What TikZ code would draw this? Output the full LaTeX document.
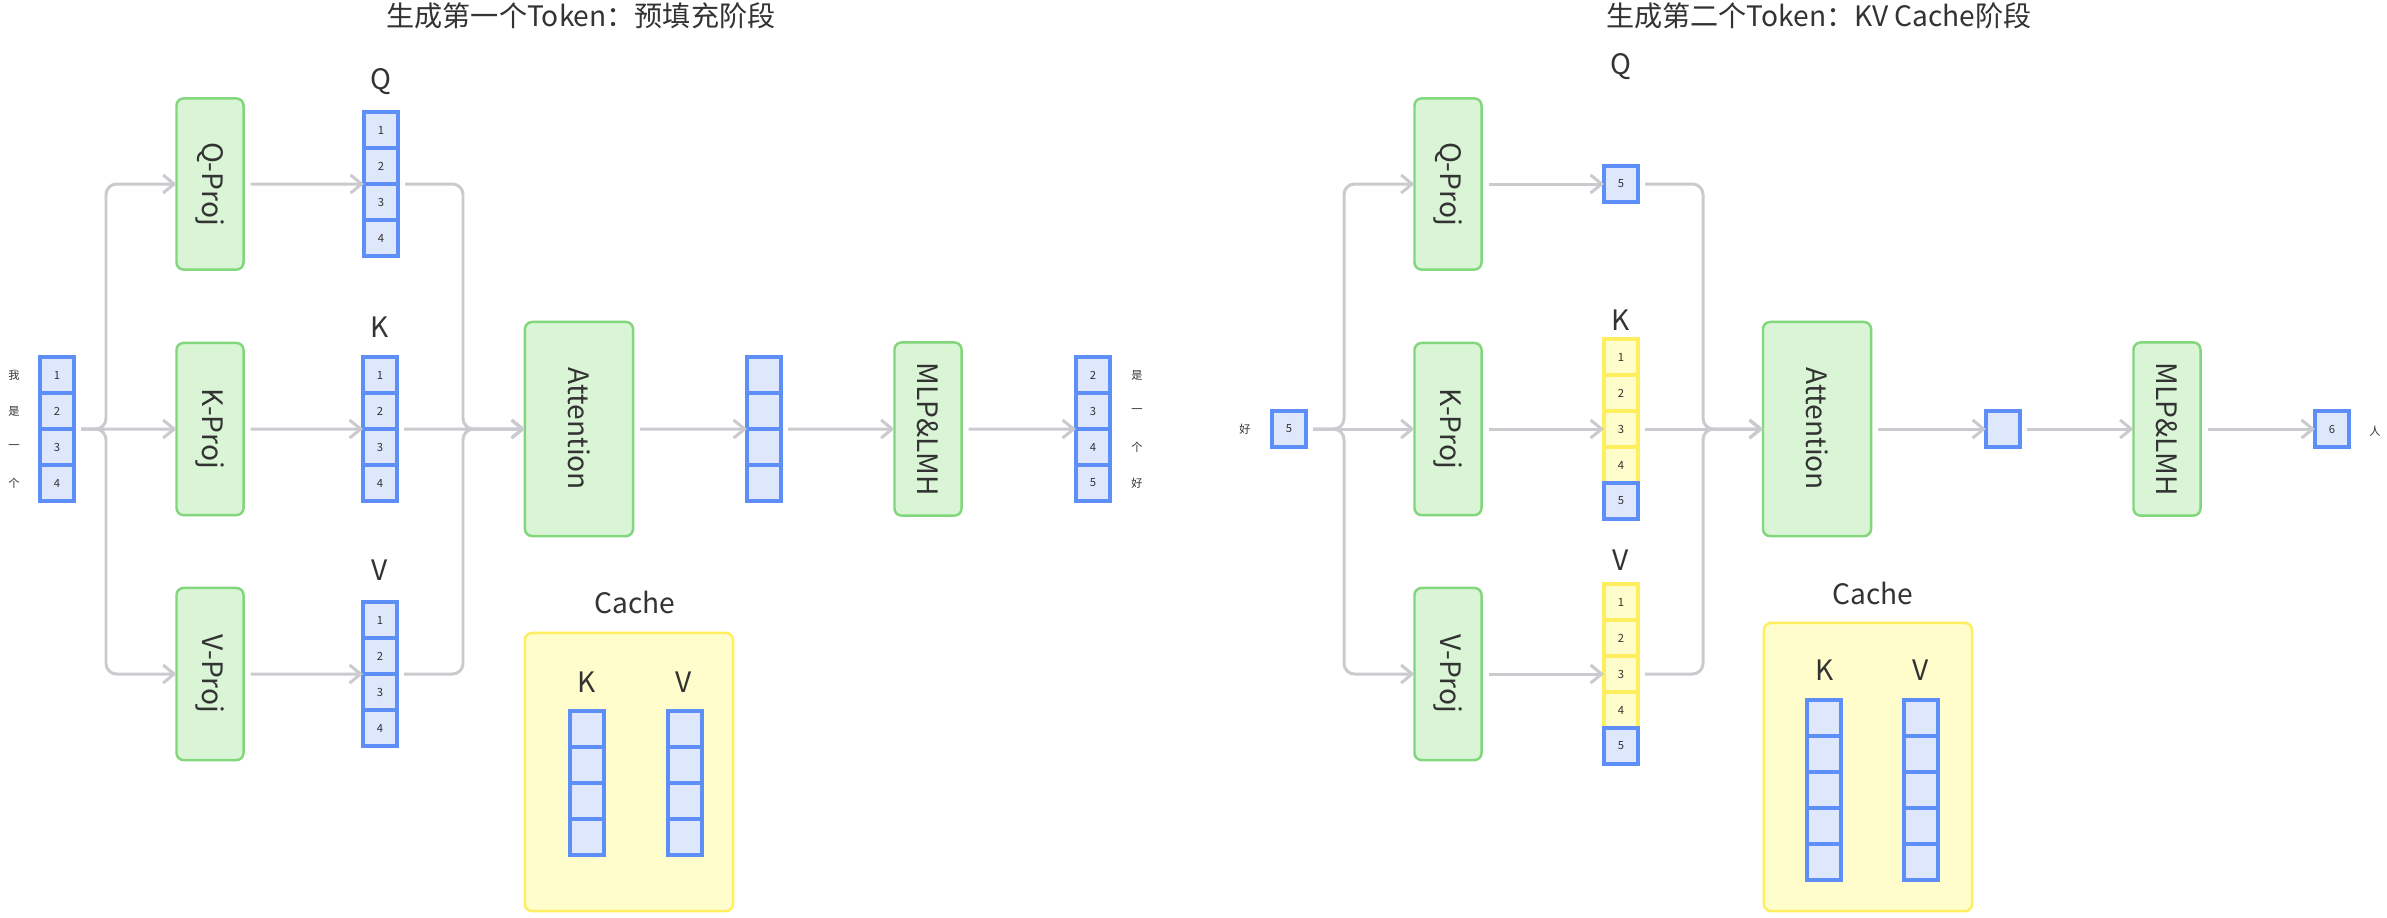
\documentclass[tikz,border=0pt]{standalone}
\usepackage{fontspec}
\setmainfont{Noto Sans CJK SC}
\usepackage{graphicx}
\usetikzlibrary{arrows.meta,positioning}
\definecolor{grnfill}{HTML}{D9F5D6}
\definecolor{grnline}{HTML}{82D67B}
\definecolor{bluefill}{HTML}{DFE7FC}
\definecolor{blueline}{HTML}{5E8EF7}
\definecolor{yelfill}{HTML}{FFFDCB}
\definecolor{yelline}{HTML}{FFEE5E}
\definecolor{flowc}{HTML}{C9CBCF}
\definecolor{ink}{HTML}{333333}
\tikzset{
  blk/.style={rectangle, rounded corners=2pt, draw=grnline, fill=grnfill, line width=0.7pt,
              minimum width=0.67cm, inner sep=0pt, outer sep=0pt, text=ink, font=\fontsize{8pt}{10pt}\selectfont},
  cell/.style={rectangle, draw=blueline, fill=bluefill, line width=0.9pt, minimum width=0.34cm,
               minimum height=0.36cm, inner sep=0pt, outer sep=0pt, text=ink, font=\fontsize{3.2pt}{4pt}\selectfont},
  ycell/.style={cell, draw=yelline, fill=yelfill},
  cachebox/.style={rectangle, rounded corners=2pt, draw=yelline, fill=yelfill, line width=0.7pt,
                   minimum width=2.08cm},
  ttl/.style={font=\fontsize{8pt}{10pt}\selectfont, text=ink, inner sep=0pt},
  tok/.style={font=\fontsize{3.2pt}{4pt}\selectfont, text=ink, inner sep=0pt},
  fl/.style={-{Straight Barb[length=1.1mm,width=1.8mm]}, draw=flowc, line width=0.85pt,
             rounded corners=3pt, shorten <=2pt},
}
\begin{document}
\begin{tikzpicture}[x=0.01cm, y=-0.01cm]
  \path[fill=white, use as bounding box] (0,0) rectangle (2387,917);

  % --- prefill: first token
  \node[ttl] (titlea) at (581,16) {生成第一个Token：预填充阶段};
  \foreach \c/\w [count=\i] in {1/我,2/是,3/一,4/个} {
    \node[cell] (ia\i) at (57,339+36*\i) {\c};
    \node[tok] (iwa\i) at (14,339+36*\i) {\w};
  }
  \node[blk, minimum height=1.71cm] (qproj) at (210,184) {\rotatebox{-90}{Q-Proj}};
  \node[blk, minimum height=1.72cm] (kproj) at (210,429) {\rotatebox{-90}{K-Proj}};
  \node[blk, minimum height=1.72cm] (vproj) at (210,674) {\rotatebox{-90}{V-Proj}};
  \node[ttl] (qlbla) at (381,82) {Q};
  \node[ttl] (klbla) at (380,327) {K};
  \node[ttl] (vlbla) at (380,570) {V};
  \foreach \c [count=\i] in {1,2,3,4} {
    \node[cell] (qa\i) at (381,94+36*\i) {\c};
    \node[cell] (ka\i) at (380,339+36*\i) {\c};
    \node[cell] (va\i) at (380,584+36*\i) {\c};
    \node[cell] (oa\i) at (764,339+36*\i) {};
  }
  \node[blk, minimum width=1.08cm, minimum height=2.14cm] (attn) at (579,429) {\rotatebox{-90}{Attention}};
  \node[blk, minimum height=1.73cm] (mlp) at (928,429) {\rotatebox{-90}{MLP\&LMH}};
  \foreach \c/\w [count=\i] in {2/是,3/一,4/个,5/好} {
    \node[cell] (fa\i) at (1093,339+36*\i) {\c};
    \node[tok] (fwa\i) at (1137,339+36*\i) {\w};
  }
  \node[ttl] (cachelbla) at (635,602) {Cache};
  \node[cachebox, minimum height=2.78cm] (cachea) at (629,772) {};
  \node[ttl] (ckla) at (587,682) {K};
  \node[ttl] (cvla) at (684,682) {V};
  \foreach \i in {1,...,4} {
    \node[cell] (cka\i) at (587,693+36*\i) {};
    \node[cell] (cva\i) at (685,693+36*\i) {};
  }

  \coordinate (forka) at (106,429);
  \coordinate (mergea) at (463,429);
  \draw[fl] (ia2.south east) -- (forka) |- (qproj.west);
  \draw[fl] (ia2.south east) -- (kproj.west);
  \draw[fl] (ia2.south east) -- (forka) |- (vproj.west);
  \draw[fl] (qproj.east) -- (qa2.south west);
  \draw[fl] (kproj.east) -- (ka2.south west);
  \draw[fl] (vproj.east) -- (va2.south west);
  \draw[fl] (qa2.south east) -| (mergea) -- (attn.west);
  \draw[fl] (ka2.south east) -- (attn.west);
  \draw[fl] (va2.south east) -| (mergea) -- (attn.west);
  \draw[fl] (attn.east) -- (oa2.south west);
  \draw[fl] (oa2.south east) -- (mlp.west);
  \draw[fl] (mlp.east) -- (fa2.south west);

  % --- decode: second token with KV cache
  \node[ttl] (titleb) at (1819,16) {生成第二个Token：KV Cache阶段};
  \node[cell] (ib) at (1289,429) {5};
  \node[tok] (iwb) at (1245,429) {好};
  \node[blk, minimum height=1.71cm] (qprojb) at (1448,184) {\rotatebox{-90}{Q-Proj}};
  \node[blk, minimum height=1.72cm] (kprojb) at (1448,429) {\rotatebox{-90}{K-Proj}};
  \node[blk, minimum height=1.72cm] (vprojb) at (1448,674) {\rotatebox{-90}{V-Proj}};
  \node[ttl] (qlblb) at (1621,67) {Q};
  \node[ttl] (klblb) at (1621,320) {K};
  \node[ttl] (vlblb) at (1621,560) {V};
  \node[cell] (qb) at (1621,184) {5};
  \foreach \s/\c [count=\i] in {ycell/1,ycell/2,ycell/3,ycell/4,cell/5} {
    \node[\s] (kb\i) at (1621,321+36*\i) {\c};
    \node[\s] (vb\i) at (1621,566+36*\i) {\c};
  }
  \node[blk, minimum width=1.08cm, minimum height=2.14cm] (attnb) at (1817,429) {\rotatebox{-90}{Attention}};
  \node[cell] (ob) at (2003,429) {};
  \node[blk, minimum height=1.73cm] (mlpb) at (2167,429) {\rotatebox{-90}{MLP\&LMH}};
  \node[cell] (fb) at (2332,429) {6};
  \node[tok] (fwb) at (2375,431) {人};
  \node[ttl] (cachelblb) at (1873,593) {Cache};
  \node[cachebox, minimum height=2.88cm] (cacheb) at (1868,767) {};
  \node[ttl] (cklb) at (1825,670) {K};
  \node[ttl] (cvlb) at (1921,670) {V};
  \foreach \i in {1,...,5} {
    \node[cell] (ckb\i) at (1824,682+36*\i) {};
    \node[cell] (cvb\i) at (1921,682+36*\i) {};
  }

  \coordinate (forkb) at (1344,429);
  \coordinate (mergeb) at (1703,429);
  \draw[fl] (ib.east) -- (forkb) |- (qprojb.west);
  \draw[fl] (ib.east) -- (kprojb.west);
  \draw[fl] (ib.east) -- (forkb) |- (vprojb.west);
  \draw[fl] (qprojb.east) -- (qb.west);
  \draw[fl] (kprojb.east) -- (kb3.west);
  \draw[fl] (vprojb.east) -- (vb3.west);
  \draw[fl] (qb.east) -| (mergeb) -- (attnb.west);
  \draw[fl] (kb3.east) -- (attnb.west);
  \draw[fl] (vb3.east) -| (mergeb) -- (attnb.west);
  \draw[fl] (attnb.east) -- (ob.west);
  \draw[fl] (ob.east) -- (mlpb.west);
  \draw[fl] (mlpb.east) -- (fb.west);
\end{tikzpicture}
\end{document}
